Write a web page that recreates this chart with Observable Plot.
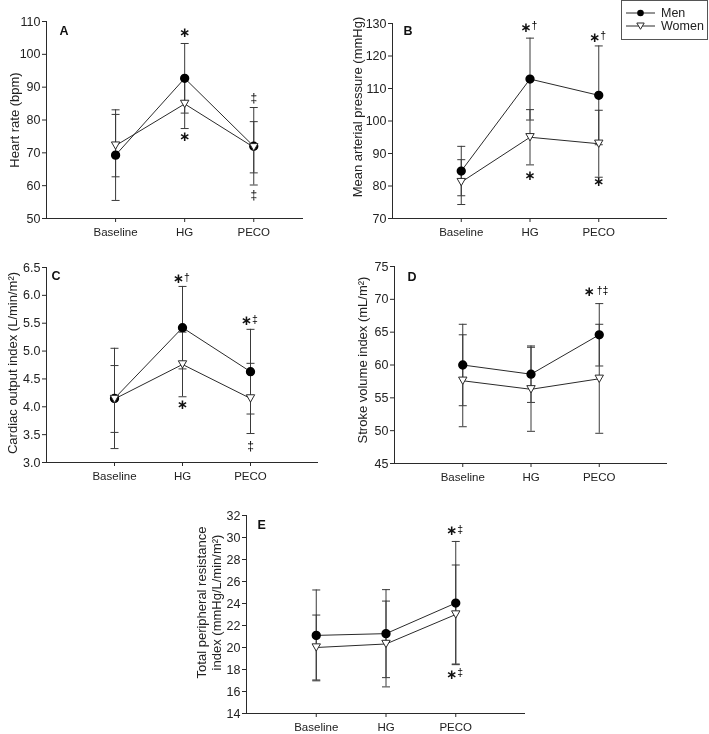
<!DOCTYPE html>
<html><head><meta charset="utf-8">
<script src="https://cdn.jsdelivr.net/npm/d3@7"></script>
<script src="https://cdn.jsdelivr.net/npm/@observablehq/plot@0.6"></script>
<style>
body{margin:0;background:#fff;}
#wrap{position:relative;width:709px;height:734px;font-family:"Liberation Sans",Arial,sans-serif;color:#222;}
.panel{position:absolute;will-change:transform;}
#legend{position:absolute;left:621px;top:0px;width:85px;height:38px;border:1px solid #555;background:#fff;will-change:transform;}
#legend .row{position:absolute;left:4px;height:13px;line-height:13px;display:flex;align-items:center;font-size:12.5px;}
#legend svg{margin-right:6px;}
</style></head><body><div id="wrap"><div id="legend"></div></div>
<script>
// ---------- data ----------
const conditions = ["Baseline", "HG", "PECO"];
const series = ["Men", "Women"];

// A: Heart rate (bpm)
const hrMen = [69.3, 92.7, 72.0];
const hrMenSD = [13.8, 10.6, 11.8];
const hrWomen = [72.2, 84.9, 71.7];
const hrWomenSD = [9.5, 7.5, 7.8];
const hrTicks = [50, 60, 70, 80, 90, 100, 110];

// B: Mean arterial pressure (mmHg)
const mapMen = [84.6, 112.9, 107.9];
const mapMenSD = [7.6, 12.6, 15.2];
const mapWomen = [81.2, 95.0, 93.0];
const mapWomenSD = [6.9, 8.5, 10.3];
const mapTicks = [70, 80, 90, 100, 110, 120, 130];

// C: Cardiac output index (L/min/m2)
const coMen = [4.15, 5.42, 4.63];
const coMenSD = [0.90, 0.74, 0.76];
const coWomen = [4.14, 4.76, 4.15];
const coWomenSD = [0.60, 0.58, 0.63];
const coTicks = [3.0, 3.5, 4.0, 4.5, 5.0, 5.5, 6.0, 6.5];

// D: Stroke volume index (mL/m2)
const svMen = [60.0, 58.6, 64.6];
const svMenSD = [6.2, 4.3, 4.75];
const svWomen = [57.6, 56.3, 57.9];
const svWomenSD = [7.0, 6.4, 8.3];
const svTicks = [45, 50, 55, 60, 65, 70, 75];

// E: Total peripheral resistance index
const tprMen = [21.1, 21.26, 24.04];
const tprMenSD = [4.13, 4.0, 5.6];
const tprWomen = [20.0, 20.32, 23.0];
const tprWomenSD = [2.95, 3.9, 4.5];
const tprTicks = [14, 16, 18, 20, 22, 24, 26, 28, 30, 32];

// significance markers
const annA = [{cond:"HG", y:106.5, label:"*"}, {cond:"HG", y:74.8, label:"*"}, {cond:"PECO", y:86.6, label:"‡"}, {cond:"PECO", y:57.1, label:"‡"}];
const annB = [{cond:"HG", y:128.8, label:"*†"}, {cond:"HG", y:83.3, label:"*"}, {cond:"PECO", y:125.7, label:"*†"}, {cond:"PECO", y:81.2, label:"*"}];
const annC = [{cond:"HG", y:6.30, label:"*†"}, {cond:"HG", y:4.04, label:"*"}, {cond:"PECO", y:5.54, label:"*‡"}, {cond:"PECO", y:3.29, label:"‡"}];
const annD = [{cond:"PECO", y:71.1, label:"*†‡"}];
const annE = [{cond:"PECO", y:30.6, label:"*‡"}, {cond:"PECO", y:17.57, label:"*‡"}];

// ---------- helpers ----------
const INK = "#2a2a2a";
const FONT = "Liberation Sans, Arial, sans-serif";
const triDown = {draw(ctx, size){ const w = Math.sqrt(size)*0.55, h = w*1.75; ctx.moveTo(-w,-h/2); ctx.lineTo(w,-h/2); ctx.lineTo(0,h/2); ctx.closePath(); }};
const capSym = {draw(ctx){ ctx.moveTo(-4,0); ctx.lineTo(4,0); }};

function makePanel(cfg){
  const rows = [];
  series.forEach((s, si) => conditions.forEach((c, ci) => rows.push({series:s, x:ci+1, mean:cfg.means[si][ci], sd:cfg.sds[si][ci]})));
  const men = rows.filter(d => d.series === "Men");
  const women = rows.filter(d => d.series === "Women");
  const caps = rows.flatMap(d => [{x:d.x, y:d.mean + d.sd}, {x:d.x, y:d.mean - d.sd}]);
  const y0 = cfg.ticks[0], y1 = cfg.ticks[cfg.ticks.length-1];
  const marks = [
    Plot.ruleX([0], {stroke: INK}),
    Plot.ruleY([y0], {stroke: INK}),
    Plot.axisY({ticks: cfg.ticks, tickSize: 4, tickPadding: 2, label: null, tickFormat: cfg.fmt || (d => d), stroke: INK, fill: "#222", fontSize: 12.5}),
    Plot.axisX({ticks: [1,2,3], tickSize: 4, tickPadding: 5, label: null, tickFormat: i => conditions[i-1], stroke: INK, fill: "#222", fontSize: 11.5}),
    Plot.text([cfg.label], {frameAnchor: "left", text: d => d, rotate: -90, dx: cfg.labelDx, dy: cfg.labelDy || 0, textAnchor: "middle", lineAnchor: "middle", fontSize: 13, lineHeight: 1.15, fill: "#222"}),
    Plot.text([cfg.letter], {frameAnchor: "top-left", text: d => d, dx: cfg.letterDx, dy: cfg.letterDy, textAnchor: "start", lineAnchor: "middle", fontWeight: "bold", fontSize: 12.5, fill: "#111"}),
    Plot.ruleX(rows, {x: "x", y1: d => d.mean - d.sd, y2: d => d.mean + d.sd, stroke: "#3a3a3a", strokeWidth: 1}),
    Plot.dot(caps, {x: "x", y: "y", symbol: capSym, r: 4, stroke: "#3a3a3a", fill: "none", strokeWidth: 1}),
    Plot.line(men, {x: "x", y: "mean", stroke: INK, strokeWidth: 1}),
    Plot.line(women, {x: "x", y: "mean", stroke: INK, strokeWidth: 1}),
    Plot.dot(men, {x: "x", y: "mean", r: 3.9, fill: "#000", stroke: "#000"}),
    Plot.dot(women, {x: "x", y: "mean", r: 4.3, symbol: triDown, fill: "#fff", stroke: INK, strokeWidth: 1})
  ];
  cfg.ann.forEach(a => {
    const x = conditions.indexOf(a.cond) + 1;
    const star = a.label.startsWith("*");
    const rest = a.label.replace("*", "");
    const n = rest.length;
    if (star) marks.push(Plot.text([a], {x: () => x, y: "y", text: () => "∗", dx: n ? -4 - 6*(n-1) : 0, textAnchor: "middle", lineAnchor: "middle", fontFamily: "DejaVu Sans", fontWeight: "bold", fontSize: 13.5, fill: "#111"}));
    if (n) marks.push(Plot.text([a], {x: () => x, y: "y", text: () => rest, dx: star ? 1.5 - 4*(n-1) : 0, dy: star ? -1.5 : 0, textAnchor: star ? "start" : "middle", lineAnchor: "middle", fontSize: star ? 10.5 : 12, fill: "#000"}));
  });
  const svg = Plot.plot({
    width: cfg.width, height: cfg.height,
    marginLeft: cfg.mL, marginRight: cfg.mR, marginTop: cfg.mT, marginBottom: cfg.mB,
    style: {fontFamily: FONT, fontSize: "12.5px", background: "transparent", color: "#222", overflow: "visible"},
    x: {domain: [0, cfg.xmax], axis: null},
    y: {domain: [y0, y1], axis: null},
    marks
  });
  const div = document.createElement("div");
  div.className = "panel";
  div.style.left = cfg.left + "px";
  div.style.top = cfg.top + "px";
  div.appendChild(svg);
  document.getElementById("wrap").appendChild(div);
}

makePanel({left:0, top:0, width:320, height:240, mL:46, mR:17, mT:21, mB:22, xmax:3.72,
  means:[hrMen, hrWomen], sds:[hrMenSD, hrWomenSD], ticks: hrTicks, label:"Heart rate (bpm)", labelDx:-32, labelDy:0,
  letter:"A", letterDx:13, letterDy:9, ann: annA});
makePanel({left:350, top:0, width:359, height:240, mL:42, mR:42, mT:23, mB:22, xmax:4.0,
  means:[mapMen, mapWomen], sds:[mapMenSD, mapWomenSD], ticks: mapTicks, label:"Mean arterial pressure (mmHg)", labelDx:-35, labelDy:-14,
  letter:"B", letterDx:11, letterDy:7, ann: annB});
makePanel({left:0, top:240, width:340, height:245, mL:46, mR:22, mT:27, mB:23, xmax:4.0,
  means:[coMen, coWomen], sds:[coMenSD, coWomenSD], ticks: coTicks, fmt: d3.format(".1f"), label:"Cardiac output index (L/min/m²)", labelDx:-34, labelDy:-2,
  letter:"C", letterDx:5, letterDy:8, ann: annC});
makePanel({left:350, top:240, width:359, height:245, mL:44, mR:42, mT:26, mB:22, xmax:4.0,
  means:[svMen, svWomen], sds:[svMenSD, svWomenSD], ticks: svTicks, label:"Stroke volume index (mL/m²)", labelDx:-32, labelDy:-5,
  letter:"D", letterDx:13, letterDy:10, ann: annD});
makePanel({left:170, top:480, width:370, height:254, mL:76, mR:15, mT:35, mB:21, xmax:4.0,
  means:[tprMen, tprWomen], sds:[tprMenSD, tprWomenSD], ticks: tprTicks, label:"Total peripheral resistance\nindex (mmHg/L/min/m²)", labelDx:-37.5, labelDy:-12,
  letter:"E", letterDx:11, letterDy:9, ann: annE});

// legend
const legend = d3.select("#legend");
series.forEach((s, i) => {
  const row = legend.append("div").attr("class", "row").style("top", (5.5 + i*13.2) + "px");
  const sv = row.append("svg").attr("width", 29).attr("height", 12);
  sv.append("line").attr("x1", 0).attr("x2", 29).attr("y1", 6).attr("y2", 6).attr("stroke", INK);
  if (s === "Men") sv.append("circle").attr("cx", 14.5).attr("cy", 6).attr("r", 3.3).attr("fill", "#000");
  else sv.append("path").attr("d", "M10.8,3 L18.2,3 L14.5,9.3 Z").attr("fill", "#fff").attr("stroke", INK);
  row.append("span").text(s);
});
</script></body></html>
